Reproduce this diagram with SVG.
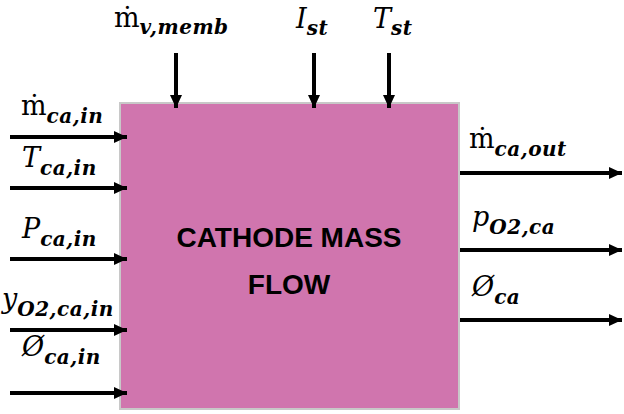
<svg xmlns="http://www.w3.org/2000/svg" width="624" height="414" viewBox="0 0 624 414">
<defs>
<marker id="ah" markerUnits="userSpaceOnUse" markerWidth="14" markerHeight="14" refX="13" refY="7" orient="auto">
<path d="M0,1 L13,7 L0,13 Z" fill="#000"/>
</marker>
<style>
.c{stroke:#000;stroke-width:4;fill:none;marker-end:url(#ah)}
.v{font-family:"DejaVu Serif","Liberation Serif",serif;font-style:italic;font-size:27px;fill:#000}
.u{font-style:normal}
.s{font-size:20px;font-weight:bold;letter-spacing:0.5px}
.t{font-family:"Liberation Sans",Arial,sans-serif;font-weight:bold;font-size:28px;fill:#000;text-anchor:middle}
</style>
</defs>
<rect width="624" height="414" fill="#fff"/>
<g id="block">
<rect x="120" y="103" width="339" height="306" fill="#D075AE" stroke="#c8c8c8" stroke-width="2"/>
<text class="t" x="289" y="247">CATHODE MASS</text>
<text class="t" x="289" y="294">FLOW</text>
</g>
<g id="connectors">
<line class="c" x1="10" y1="137" x2="127" y2="137"/>
<line class="c" x1="10" y1="188" x2="127" y2="188"/>
<line class="c" x1="10" y1="259" x2="127" y2="259"/>
<line class="c" x1="10" y1="330" x2="127" y2="330"/>
<line class="c" x1="10" y1="393" x2="127" y2="393"/>
<line class="c" x1="176" y1="53" x2="176" y2="108"/>
<line class="c" x1="314" y1="53" x2="314" y2="108"/>
<line class="c" x1="389" y1="53" x2="389" y2="108"/>
<line class="c" x1="460" y1="173" x2="622" y2="173"/>
<line class="c" x1="460" y1="250" x2="622" y2="250"/>
<line class="c" x1="460" y1="320" x2="622" y2="320"/>
</g>
<g id="labels">
<text class="v" x="21" y="115"><tspan class="u">ṁ</tspan><tspan class="s" dy="8">ca,in</tspan></text>
<text class="v" x="22" y="167">T<tspan class="s" dy="8">ca,in</tspan></text>
<text class="v" x="22" y="238">P<tspan class="s" dy="8">ca,in</tspan></text>
<text class="v" x="2" y="308">y<tspan class="s" dy="8">O2,ca,in</tspan></text>
<text class="v" x="22" y="356">Ø<tspan class="s" dy="8">ca,in</tspan></text>
<text class="v" x="114" y="27"><tspan class="u">ṁ</tspan><tspan class="s" dy="7">v,memb</tspan></text>
<text class="v" x="296" y="28">I<tspan class="s" dy="7">st</tspan></text>
<text class="v" x="373" y="28">T<tspan class="s" dy="7">st</tspan></text>
<text class="v" x="469" y="148"><tspan class="u">ṁ</tspan><tspan class="s" dy="8">ca,out</tspan></text>
<text class="v" x="472" y="226">p<tspan class="s" dy="8">O2,ca</tspan></text>
<text class="v" x="472" y="296">Ø<tspan class="s" dy="8">ca</tspan></text>
</g>
</svg>
